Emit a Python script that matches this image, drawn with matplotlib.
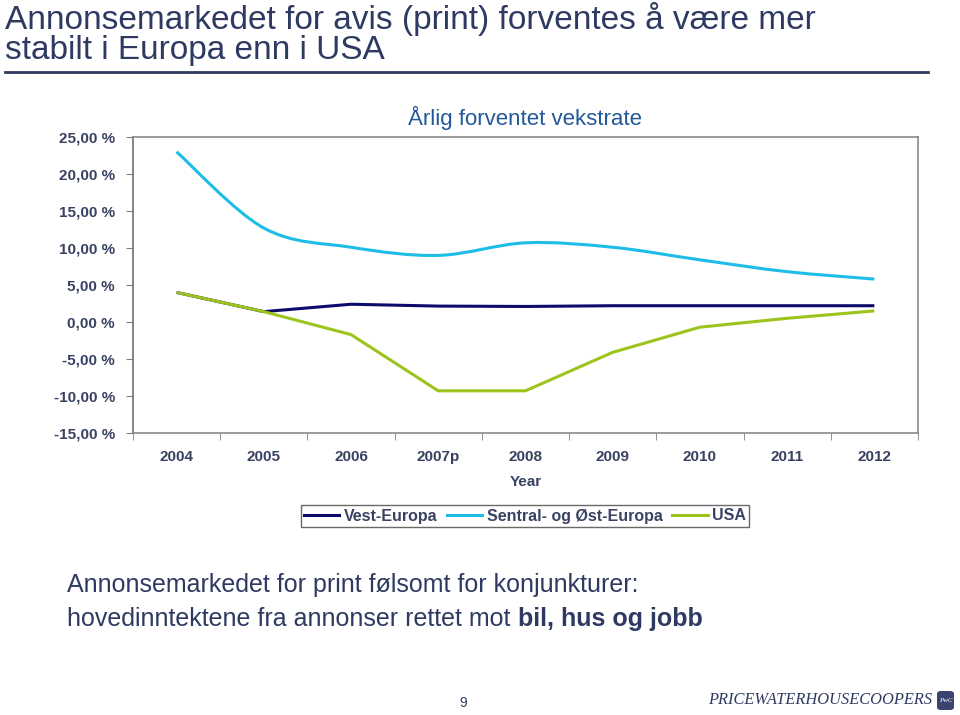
import numpy as np
import matplotlib.pyplot as plt
from matplotlib.path import Path
from matplotlib.patches import PathPatch, FancyBboxPatch
from matplotlib.lines import Line2D

years = ["2004", "2005", "2006", "2007p", "2008", "2009", "2010", "2011", "2012"]
vest_europa = [4.0, 1.4, 2.4, 2.15, 2.1, 2.2, 2.2, 2.2, 2.2]
sentral_ost = [23.0, 12.7, 10.1, 9.0, 10.7, 10.1, 8.4, 6.8, 5.8]
usa = [4.0, 1.4, -1.7, -9.3, -9.3, -4.1, -0.7, 0.5, 1.5]
yticks = [-15, -10, -5, 0, 5, 10, 15, 20, 25]

navy = "#0b0b6b"
cyan = "#1dbde8"
green = "#9cc41c"
txt = "#3a4262"
dark = "#2f3a62"

plt.rcParams['font.family'] = ['Liberation Sans', 'DejaVu Sans']

def smooth_path(x, y):
    # catmull-rom -> bezier, like Excel's "smoothed line"
    p = np.column_stack([x, y]).astype(float)
    verts = [p[0]]
    codes = [Path.MOVETO]
    n = len(p)
    for i in range(n - 1):
        p0 = p[i - 1] if i > 0 else p[i]
        p3 = p[i + 2] if i + 2 < n else p[i + 1]
        c1 = p[i] + (p[i + 1] - p0) / 6
        c2 = p[i + 1] - (p3 - p[i]) / 6
        verts += [c1, c2, p[i + 1]]
        codes += [Path.CURVE4] * 3
    return Path(verts, codes)

fig = plt.figure(figsize=(9.6, 7.15), dpi=100)
ax = fig.add_axes([0.1385, 0.3944, 0.8177, 0.414])

x = np.arange(len(years))
ax.plot(x, vest_europa, color=navy, lw=2.2, solid_capstyle='butt')
ax.add_patch(PathPatch(smooth_path(x, sentral_ost), fill=False, edgecolor=cyan, lw=2.2))
ax.plot(x, usa, color=green, lw=2.2, solid_capstyle='butt')

ax.set_xlim(-0.5, len(years) - 0.5)
ax.set_ylim(-15, 25)
ax.set_yticks(yticks)
ax.set_yticklabels([f"{v:.2f}".replace(".", ",") + " %" for v in yticks],
                   fontsize=11, fontweight='bold', color=txt)
ax.set_xticks(x)
ax.set_xticklabels(years, fontsize=11, fontweight='bold', color=txt)
ax.set_xticks(np.arange(-0.5, len(years)), minor=True)
ax.tick_params(axis='x', which='major', length=0, pad=12)
ax.tick_params(axis='x', which='minor', length=5, color='#808080', direction='out')
ax.tick_params(axis='y', length=5, color='#808080', direction='out', pad=8)
for s in ax.spines.values():
    s.set_color('#8a8a8a')
    s.set_linewidth(1.2)
ax.spines['left'].set_color('#707070')
ax.set_xlabel("Year", fontsize=11, fontweight='bold', color=txt, labelpad=8)

ax.text(0.5, 1.025, "Årlig forventet vekstrate", transform=ax.transAxes,
        ha='center', va='bottom', fontsize=16, color='#23599a')

handles = [Line2D([], [], color=c, lw=2.2) for c in (navy, cyan, green)]
leg = fig.legend(handles, ["Vest-Europa", "Sentral- og Øst-Europa", "USA"],
                 loc='center', bbox_to_anchor=(525 / 960, 1 - 516 / 715), ncol=3,
                 frameon=True, fancybox=False, handlelength=2.2, handletextpad=0.3,
                 columnspacing=0.6, borderpad=0.2, borderaxespad=0,
                 prop={'size': 11.5, 'weight': 'bold'})
leg.get_frame().set_edgecolor('#444444')
leg.get_frame().set_linewidth(1.0)
for t in leg.get_texts():
    t.set_color(txt)

# slide title
fig.text(5 / 960, 1 - 19 / 715, "Annonsemarkedet for avis (print) forventes å være mer",
         fontsize=24, color=dark, va='center', ha='left')
fig.text(5 / 960, 1 - 51 / 715, "stabilt i Europa enn i USA",
         fontsize=24, color=dark, va='center', ha='left')
fig.add_artist(Line2D([5 / 960, 928 / 960], [1 - 72 / 715] * 2, color=dark, lw=2))

# bottom text
fig.text(67 / 960, 1 - 585 / 715, "Annonsemarkedet for print følsomt for konjunkturer:",
         fontsize=18, color=dark, va='center', ha='left')
t1 = fig.text(67 / 960, 1 - 619 / 715, "hovedinntektene fra annonser rettet mot",
              fontsize=18, color=dark, va='center', ha='left')
fig.canvas.draw()
bb = t1.get_window_extent()
fig.text(bb.x1 / 960 + 8 / 960, 1 - 619 / 715, "bil, hus og jobb",
         fontsize=18, color=dark, va='center', ha='left', fontweight='bold')

fig.text(463 / 960, 1 - 703 / 715, "9", fontsize=10, color=dark, ha='center', va='center')

# logo
fig.text(708 / 960, 1 - 700 / 715, "PRICEWATERHOUSECOOPERS", fontsize=11.8,
         color=dark, ha='left', va='center', family='Liberation Serif',
         style='italic')
fig.add_artist(FancyBboxPatch((937 / 960, 1 - 710 / 715), 17 / 960, 19 / 715,
                              boxstyle='round,pad=0,rounding_size=0.004',
                              transform=fig.transFigure, facecolor='#3b4470',
                              edgecolor='none'))
fig.text(945.5 / 960, 1 - 700 / 715, "PwC", fontsize=5, color='white',
         ha='center', va='center', family='Liberation Serif', style='italic')

fig.savefig("out.png", dpi=100, facecolor='white')
